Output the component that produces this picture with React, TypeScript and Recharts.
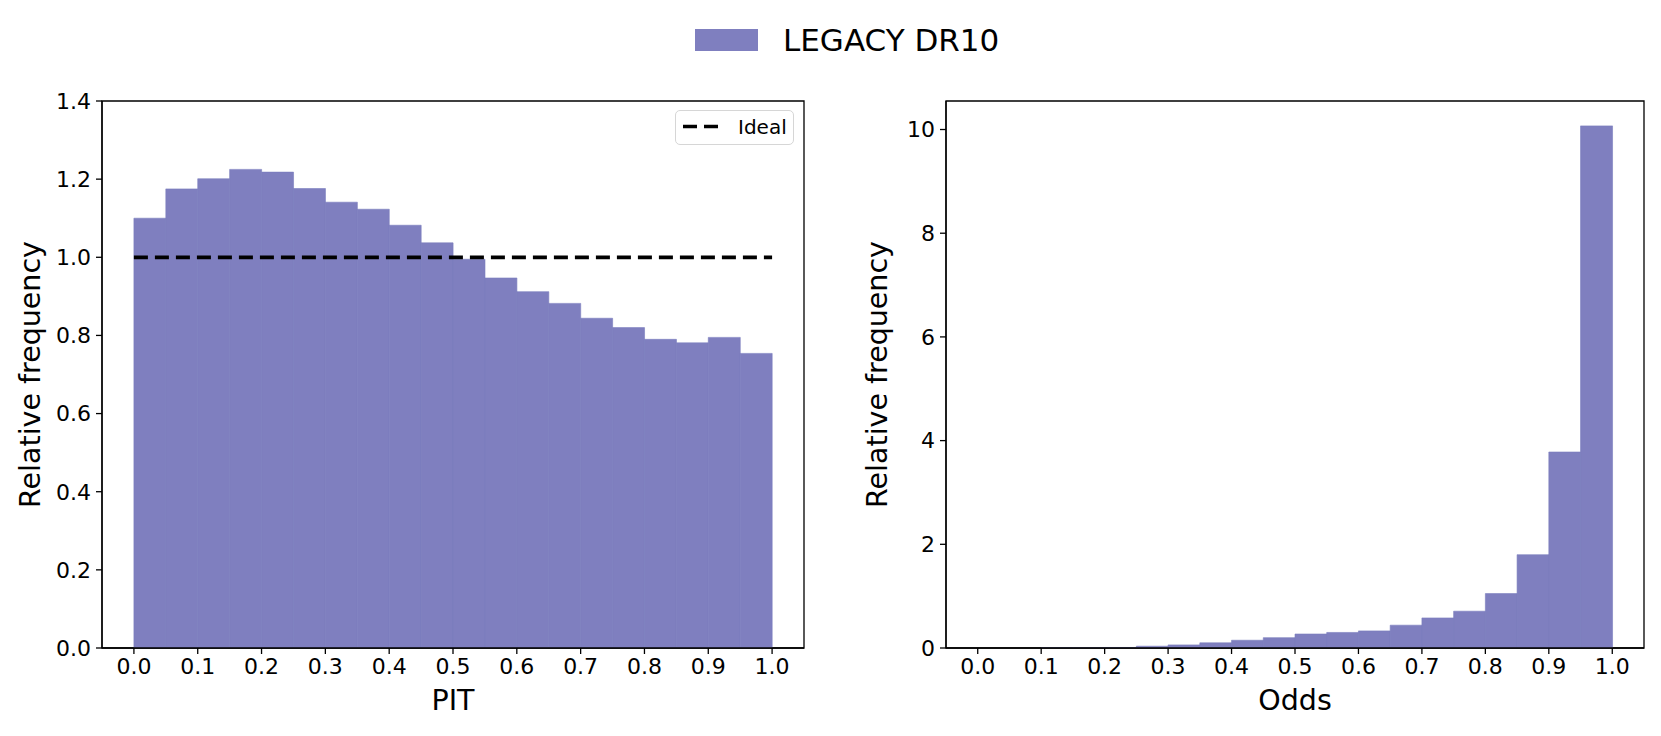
import React from 'react';
import { BarChart, Bar, XAxis, YAxis, ReferenceLine, ReferenceArea } from 'recharts';

// histogram bins (centres of each 0.05-wide bin)
const binCentres = [
  0.025, 0.075, 0.125, 0.175, 0.225, 0.275, 0.325, 0.375, 0.425, 0.475,
  0.525, 0.575, 0.625, 0.675, 0.725, 0.775, 0.825, 0.875, 0.925, 0.975,
];
const pitValues = [
  1.1, 1.175, 1.201, 1.225, 1.218, 1.176, 1.141, 1.123, 1.082, 1.037,
  0.995, 0.947, 0.912, 0.882, 0.844, 0.82, 0.79, 0.781, 0.795, 0.754,
];
const oddsValues = [
  0.0, 0.0, 0.003, 0.005, 0.01, 0.035, 0.06, 0.1, 0.15, 0.2,
  0.27, 0.3, 0.33, 0.44, 0.58, 0.71, 1.05, 1.8, 3.78, 10.07,
];
const xTicks = [0.0, 0.1, 0.2, 0.3, 0.4, 0.5, 0.6, 0.7, 0.8, 0.9, 1.0];
const pitYTicks = [0.0, 0.2, 0.4, 0.6, 0.8, 1.0, 1.2, 1.4];
const oddsYTicks = [0, 2, 4, 6, 8, 10];

const BAR_COLOR = '#7f7fbf';
const FONT = '"DejaVu Sans", sans-serif';

const axisStyle = { stroke: '#000', strokeWidth: 1.3 };
const tickStyle = { fontSize: 22, fill: '#000' };

interface HistProps {
  values: number[];
  yMax: number;
  yTicks: number[];
  yFmt: (v: number) => string;
  xLabel: string;
  width: number;
  yAxisWidth: number;
  rightMargin: number;
  yLabelDx: number;
  showIdeal?: boolean;
}

function Histogram({ values, yMax, yTicks, yFmt, xLabel, width, yAxisWidth, rightMargin, yLabelDx, showIdeal }: HistProps) {
  const rows = binCentres.map((x, i) => ({ x, value: values[i] }));
  return (
    <BarChart
      width={width}
      height={736}
      data={rows}
      margin={{ top: 101, right: rightMargin, bottom: 28, left: 0 }}
      barCategoryGap={0}
      barGap={0}
    >
      <XAxis
        dataKey="x"
        type="number"
        domain={[-0.05, 1.05]}
        ticks={xTicks}
        allowDataOverflow
        height={60}
        tickSize={6}
        tickMargin={4}
        tickFormatter={(v: number) => v.toFixed(1)}
        tick={tickStyle}
        axisLine={axisStyle}
        tickLine={axisStyle}
        label={{ value: xLabel, position: 'center', dy: 22, fontSize: 28.5, fill: '#000' }}
      />
      <YAxis
        type="number"
        domain={[0, yMax]}
        ticks={yTicks}
        allowDataOverflow
        width={yAxisWidth}
        tickSize={6}
        tickMargin={5}
        tickFormatter={yFmt}
        tick={tickStyle}
        axisLine={axisStyle}
        tickLine={axisStyle}
        label={{ value: 'Relative frequency', angle: -90, position: 'center', dx: yLabelDx, fontSize: 28.5, fill: '#000' }}
      />
      <Bar
        dataKey="value"
        fill={BAR_COLOR}
        stroke="#7a7dbd"
        strokeWidth={0.6}
        isAnimationActive={false}
      />
      {showIdeal && (
        <ReferenceLine
          segment={[{ x: 0, y: 1 }, { x: 1, y: 1 }]}
          stroke="#000"
          strokeWidth={3.7}
          strokeDasharray="14 7"
        />
      )}
      <ReferenceArea
        x1={-0.05}
        x2={1.05}
        y1={0}
        y2={yMax}
        fill="none"
        stroke="#000"
        strokeWidth={1.3}
      />
    </BarChart>
  );
}

export default function App() {
  return (
    <div style={{ position: 'relative', width: 1661, height: 736, background: '#fff', fontFamily: FONT, overflow: 'hidden' }}>
      <style>{'body{margin:0}'}</style>

      {/* figure legend */}
      <div style={{ position: 'absolute', left: 695, top: 29, width: 63, height: 22, background: BAR_COLOR }} />
      <div style={{ position: 'absolute', left: 783, top: 20, fontSize: 31, lineHeight: '40px', color: '#000', whiteSpace: 'nowrap' }}>
        LEGACY DR10
      </div>

      <div style={{ position: 'absolute', left: 0, top: 0 }}>
        <Histogram
          values={pitValues}
          yMax={1.4}
          yTicks={pitYTicks}
          yFmt={(v) => v.toFixed(1)}
          xLabel="PIT"
          width={830}
          yAxisWidth={102}
          rightMargin={26}
          yLabelDx={-21}
          showIdeal
        />
      </div>

      {/* "Ideal" legend box */}
      <div
        style={{
          position: 'absolute', left: 675, top: 110, width: 117, height: 33,
          border: '1.5px solid #d6d6d6', borderRadius: 5, background: 'rgba(255,255,255,0.8)',
        }}
      >
        <svg width={44} height={33} style={{ position: 'absolute', left: 5, top: 0 }}>
          <line x1={2} y1={15.5} x2={37} y2={15.5} stroke="#000" strokeWidth={3.7} strokeDasharray="14 7" />
        </svg>
        <div style={{ position: 'absolute', left: 62, top: 3, fontSize: 20, lineHeight: '26px', color: '#000' }}>Ideal</div>
      </div>

      <div style={{ position: 'absolute', left: 830, top: 0 }}>
        <Histogram
          values={oddsValues}
          yMax={10.55}
          yTicks={oddsYTicks}
          yFmt={(v) => String(v)}
          xLabel="Odds"
          width={831}
          yAxisWidth={116}
          rightMargin={17}
          yLabelDx={-11}
        />
      </div>
    </div>
  );
}
